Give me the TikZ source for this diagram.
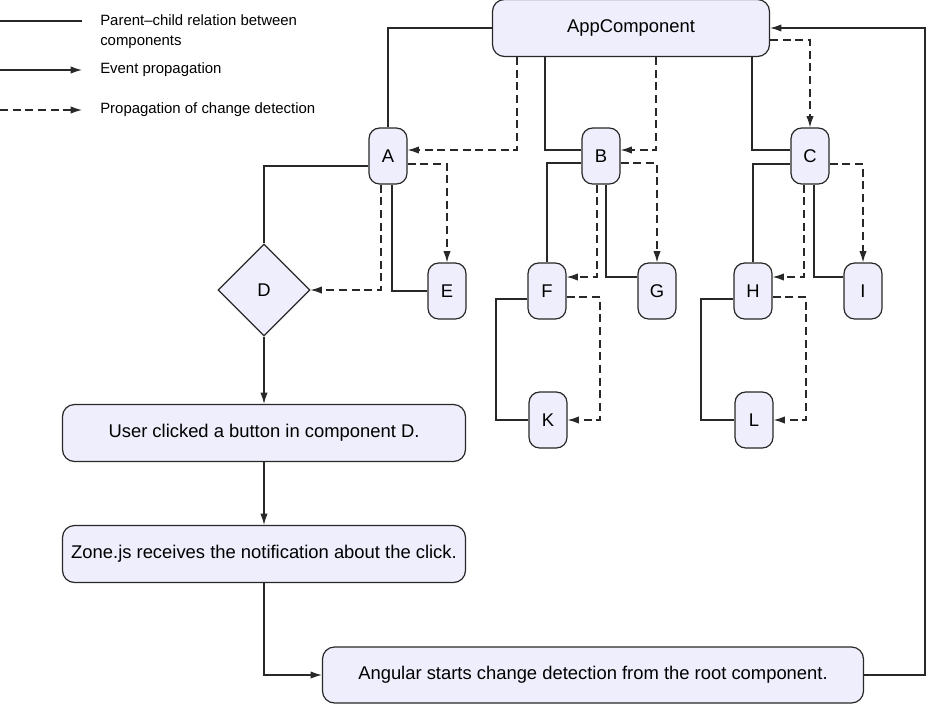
\documentclass[tikz,border=0pt]{standalone}
\usepackage{fontspec}
\setmainfont{Liberation Sans}
\usetikzlibrary{shapes.geometric,arrows.meta}
\definecolor{compfill}{RGB}{238,238,252}
\definecolor{lineclr}{RGB}{40,40,40}

\begin{document}
\begin{tikzpicture}[x=0.75pt,y=-0.75pt,
		comp/.style={draw=lineclr,fill=compfill,rounded corners=8pt,line width=0.9pt,inner sep=0pt,
			minimum width=28.5pt,minimum height=42pt,font=\fontsize{13.8}{16}\selectfont},
		wide/.style={comp,rounded corners=9pt,minimum height=42.75pt},
		legend/.style={font=\fontsize{11.2}{15}\selectfont,anchor=west,align=left,inner sep=0pt},
		rel/.style={draw=lineclr,line width=0.9pt},
		event/.style={rel,-{Latex[length=8.5pt,width=5.5pt]}},
		detect/.style={event,dash pattern=on 6pt off 3.5pt}]
		\useasboundingbox (0,0) rectangle (929,704);
		
		\coordinate (k1) at (0,21);
		\coordinate (k2) at (82,21);
		\coordinate (k3) at (0,70);
		\coordinate (k4) at (82,70);
		\coordinate (k5) at (0,110);
		\coordinate (k6) at (82,110);
		\draw[rel] (k1) -- (k2);
		\draw[event] (k3) -- (k4);
		\draw[detect] (k5) -- (k6);
		\node[legend] (t1) at (100,32) {Parent--child relation between\\components};
		\node[legend] (t2) at (100,70) {Event propagation};
		\node[legend] (t3) at (100,110) {Propagation of change detection};
		
		\node[wide,minimum width=207.75pt] (app) at (631,28) {AppComponent};
		\node[comp] (A) at (388,156) {A};
		\node[comp] (B) at (601,156) {B};
		\node[comp] (C) at (810,156) {C};
		\node[draw=lineclr,fill=compfill,diamond,line width=0.9pt,minimum size=69pt,inner sep=0pt,
			font=\fontsize{13.8}{16}\selectfont] (D) at (264,290) {D};
		\node[comp] (E) at (447,291) {E};
		\node[comp] (F) at (547,291) {F};
		\node[comp] (G) at (657,291) {G};
		\node[comp] (H) at (753,291) {H};
		\node[comp] (I) at (863,291) {I};
		\node[comp] (K) at (548,420) {K};
		\node[comp] (L) at (754,420) {L};
		\node[wide,minimum width=302.25pt] (user) at (264,433) {User clicked a button in component D.};
		\node[wide,minimum width=302.25pt] (zone) at (264,554) {Zone.js receives the notification about the click.};
		\node[wide,minimum width=405.75pt,minimum height=42pt] (ng) at (593,675) {Angular starts change detection from the root component.};
		
		\draw[rel] (app.west) -| (A.north);
		\draw[rel] (app.south -| 545,0) |- (B.west |- 0,150);
		\draw[rel] (app.south -| 752,0) |- (C.west |- 0,150);
		\draw[detect] (app.south -| 517,0) |- (A.east |- 0,150);
		\draw[detect] (app.south -| 656,0) |- (B.east |- 0,150);
		\draw[detect] (app.east |- 0,40) -| (C.north);
		
		\draw[rel] (A.west |- 0,166) -| (D.north);
		\draw[rel] (A.south -| 392,0) |- (E.west);
		\draw[detect] (A.south -| 381,0) |- (D.east);
		\draw[detect] (A.east |- 0,164) -| (E.north);
		
		\draw[rel] (B.west |- 0,163) -| (F.north);
		\draw[rel] (B.south -| 606,0) |- (G.west |- 0,277);
		\draw[detect] (B.south -| 597,0) |- (F.east |- 0,277);
		\draw[detect] (B.east |- 0,163) -| (G.north);
		\draw[rel] (F.west |- 0,299) -- (496,299) |- (K.west);
		\draw[detect] (F.east |- 0,297) -- (600,297) |- (K.east);
		
		\draw[rel] (C.west |- 0,164) -| (H.north);
		\draw[rel] (C.south -| 814,0) |- (I.west |- 0,277);
		\draw[detect] (C.south -| 804,0) |- (H.east |- 0,277);
		\draw[detect] (C.east |- 0,164) -| (I.north);
		\draw[rel] (H.west |- 0,299) -- (701,299) |- (L.west);
		\draw[detect] (H.east |- 0,297) -- (806,297) |- (L.east);
		
		\draw[event] (D.south) -- (user.north);
		\draw[event] (user.south) -- (zone.north);
		\draw[event] (zone.south) |- (ng.west);
		\draw[event] (ng.east) -- (925,675) |- (app.east);
	\end{tikzpicture}
\end{document}
